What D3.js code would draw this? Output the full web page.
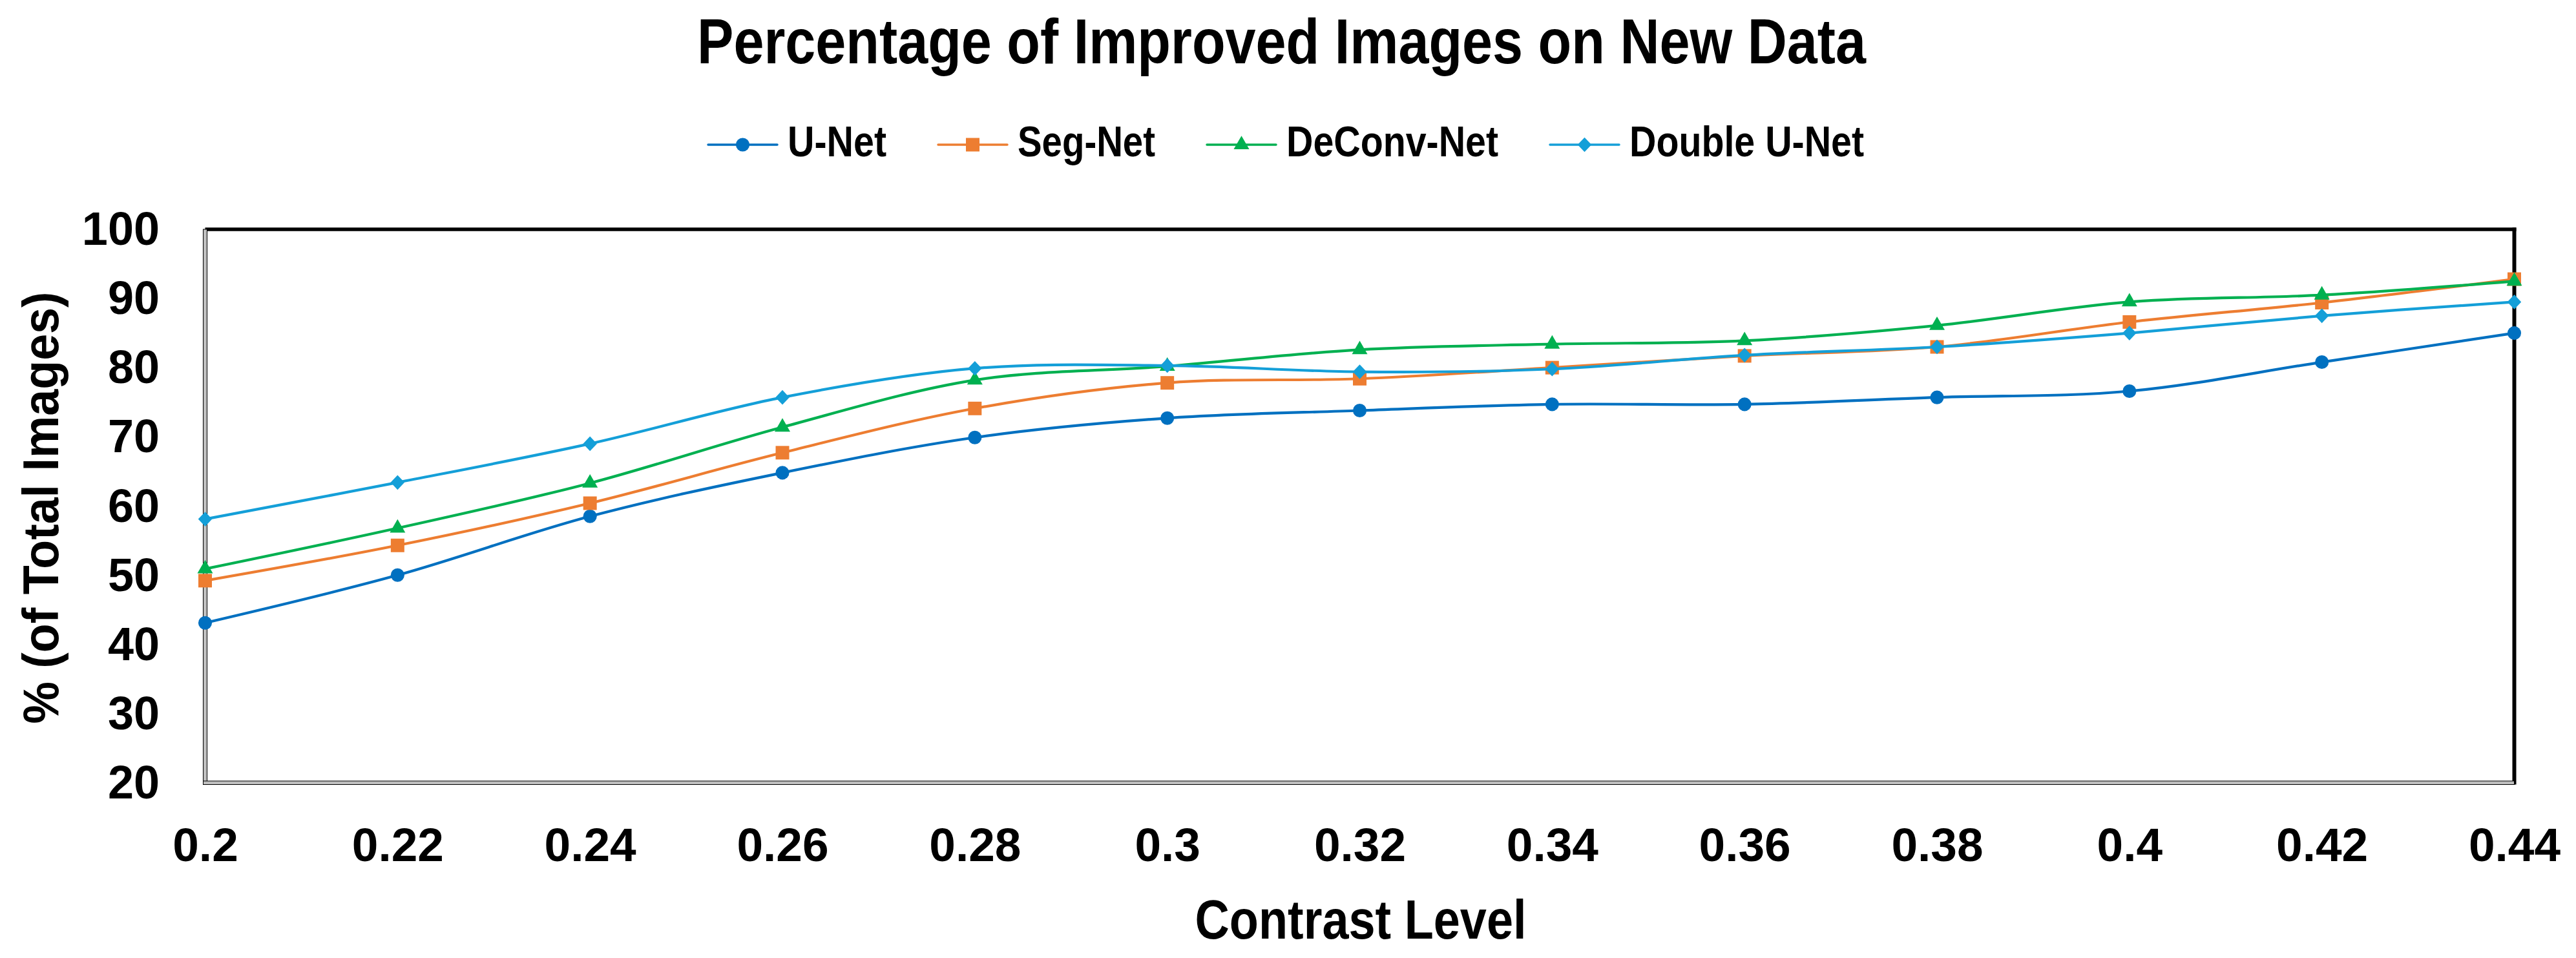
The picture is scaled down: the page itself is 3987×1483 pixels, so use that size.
<!DOCTYPE html>
<html>
<head>
<meta charset="utf-8">
<script src="https://cdn.jsdelivr.net/npm/d3@7/dist/d3.min.js"></script>
<style>
  html, body { margin: 0; padding: 0; background: #ffffff; }
  svg { display: block; }
  text { font-family: "Liberation Sans", Arial, sans-serif; font-weight: bold; fill: #000; }
</style>
</head>
<body>
<svg id="chart" width="3987" height="1483"></svg>
<script>
// ---------- data ----------
const contrastLevels = [0.2, 0.22, 0.24, 0.26, 0.28, 0.3, 0.32, 0.34, 0.36, 0.38, 0.4, 0.42, 0.44];
const xTickLabels = ["0.2", "0.22", "0.24", "0.26", "0.28", "0.3", "0.32", "0.34", "0.36", "0.38", "0.4", "0.42", "0.44"];
const yTickValues = [20, 30, 40, 50, 60, 70, 80, 90, 100];
const seriesNames = ["U-Net", "Seg-Net", "DeConv-Net", "Double U-Net"];
const uNet        = [43.1, 50.0, 58.5, 64.8, 69.9, 72.7, 73.8, 74.7, 74.7, 75.7, 76.6, 80.8, 85.0];
const segNet      = [49.2, 54.3, 60.4, 67.7, 74.1, 77.8, 78.4, 80.0, 81.7, 83.0, 86.6, 89.4, 92.8];
const deconvNet   = [50.9, 56.8, 63.3, 71.4, 78.2, 80.2, 82.6, 83.4, 83.9, 86.1, 89.5, 90.5, 92.5];
const doubleUNet  = [58.1, 63.4, 69.0, 75.7, 79.9, 80.3, 79.4, 79.8, 81.8, 83.0, 85.0, 87.5, 89.5];
const chartTitle = "Percentage of Improved Images on New Data";
const xAxisTitle = "Contrast Level";
const yAxisTitle = "% (of Total Images)";

// ---------- styling ----------
const colors = ["#0070C0", "#ED7D31", "#00B050", "#149FD8"];
const diamond = {
  draw(ctx, size) {
    const r = Math.sqrt(size) / 2 * 1.05;
    ctx.moveTo(0, -r * 1.05); ctx.lineTo(r, 0); ctx.lineTo(0, r * 1.05); ctx.lineTo(-r, 0); ctx.closePath();
  }
};
const symbolTypes = [d3.symbolCircle, d3.symbolSquare, d3.symbolTriangle, diamond];
const symbolSizes = [350, 440, 250, 420];

const seriesValues = [uNet, segNet, deconvNet, doubleUNet];
const series = seriesNames.map((name, i) => ({
  name, color: colors[i], symbol: symbolTypes[i], size: symbolSizes[i],
  points: contrastLevels.map((c, j) => ({ x: c, y: seriesValues[i][j] }))
}));

const svg = d3.select("#chart");
svg.append("rect").attr("width", 3987).attr("height", 1483).attr("fill", "#fff");

const plot = { left: 317.5, right: 3891.5, top: 355, bottom: 1211.5 };
const x = d3.scaleLinear().domain([0.2, 0.44]).range([plot.left, plot.right]);
const y = d3.scaleLinear().domain([20, 100]).range([plot.bottom, plot.top]);

// ---------- frame ----------
// top & right: black
svg.append("line").attr("x1", plot.left).attr("x2", plot.right + 3).attr("y1", plot.top).attr("y2", plot.top)
  .attr("stroke", "#000").attr("stroke-width", 5.5);
svg.append("line").attr("x1", plot.right).attr("x2", plot.right).attr("y1", plot.top - 2.7).attr("y2", plot.bottom + 3)
  .attr("stroke", "#000").attr("stroke-width", 6);
// left & bottom: grey with thin black outline
svg.append("rect").attr("x", plot.left - 3).attr("y", plot.top).attr("width", 6).attr("height", plot.bottom - plot.top + 3)
  .attr("fill", "#BFBFBF").attr("stroke", "#000").attr("stroke-width", 1);
svg.append("rect").attr("x", plot.left - 3).attr("y", plot.bottom - 2.5).attr("width", plot.right - plot.left + 3).attr("height", 5.5)
  .attr("fill", "#BFBFBF").attr("stroke", "#000").attr("stroke-width", 1);

// ---------- axes ----------
const xAxis = d3.axisBottom(x).tickValues(contrastLevels)
  .tickFormat((d, i) => xTickLabels[i]).tickSize(0).tickPadding(0);
const gx = svg.append("g").attr("transform", `translate(0,${plot.bottom})`).call(xAxis);
gx.select(".domain").remove();
gx.selectAll("text").attr("y", 121).attr("dy", null)
  .style("font-size", "73px").style("font-family", '"Liberation Sans", Arial, sans-serif')
  .style("font-weight", "bold").attr("fill", "#000");

const yAxis = d3.axisLeft(y).tickValues(yTickValues).tickSize(0).tickPadding(0);
const gy = svg.append("g").attr("transform", `translate(247,0)`).call(yAxis);
gy.select(".domain").remove();
gy.selectAll("text").attr("x", 0).attr("dy", "0.33em")
  .style("font-size", "72px").style("font-family", '"Liberation Sans", Arial, sans-serif')
  .style("font-weight", "bold").attr("fill", "#000");

// ---------- lines & markers ----------
const line = d3.line().x(d => x(d.x)).y(d => y(d.y)).curve(d3.curveCardinal.tension(0));
const sg = svg.append("g");
series.forEach(s => {
  const g = sg.append("g");
  g.append("path").attr("d", line(s.points)).attr("fill", "none")
    .attr("stroke", s.color).attr("stroke-width", 4.2).attr("stroke-linejoin", "round");
  g.selectAll("path.mk").data(s.points).enter().append("path").attr("class", "mk")
    .attr("d", d3.symbol().type(s.symbol).size(s.size))
    .attr("transform", d => `translate(${x(d.x)},${y(d.y)})`)
    .attr("fill", s.color);
});

// ---------- titles ----------
svg.append("text").attr("x", 1983.5).attr("y", 98).attr("text-anchor", "middle")
  .attr("textLength", 1809).attr("lengthAdjust", "spacingAndGlyphs")
  .style("font-size", "98px").text(chartTitle);

svg.append("text").attr("x", 2106).attr("y", 1453).attr("text-anchor", "middle")
  .attr("textLength", 513).attr("lengthAdjust", "spacingAndGlyphs")
  .style("font-size", "86px").text(xAxisTitle);

svg.append("text").attr("transform", "translate(90,786) rotate(-90)").attr("text-anchor", "middle")
  .attr("textLength", 669).attr("lengthAdjust", "spacingAndGlyphs")
  .style("font-size", "78px").text(yAxisTitle);

// ---------- legend ----------
const legendTextWidths = [153, 213, 328, 363];
const legendY = 224, lineLen = 107, textGap = 16, itemGap = 80;
let lx = 1096;
const lg = svg.append("g");
series.forEach((s, i) => {
  const g = lg.append("g");
  g.append("line").attr("x1", lx).attr("x2", lx + lineLen).attr("y1", legendY).attr("y2", legendY)
    .attr("stroke", s.color).attr("stroke-width", 3.5).attr("stroke-linecap", "round");
  g.append("path").attr("d", d3.symbol().type(s.symbol).size(s.size))
    .attr("transform", `translate(${lx + lineLen / 2},${legendY})`).attr("fill", s.color);
  g.append("text").attr("x", lx + lineLen + textGap).attr("y", 242)
    .attr("textLength", legendTextWidths[i]).attr("lengthAdjust", "spacingAndGlyphs")
    .style("font-size", "67px").text(s.name);
  lx += lineLen + textGap + legendTextWidths[i] + itemGap;
});
</script>
</body>
</html>
